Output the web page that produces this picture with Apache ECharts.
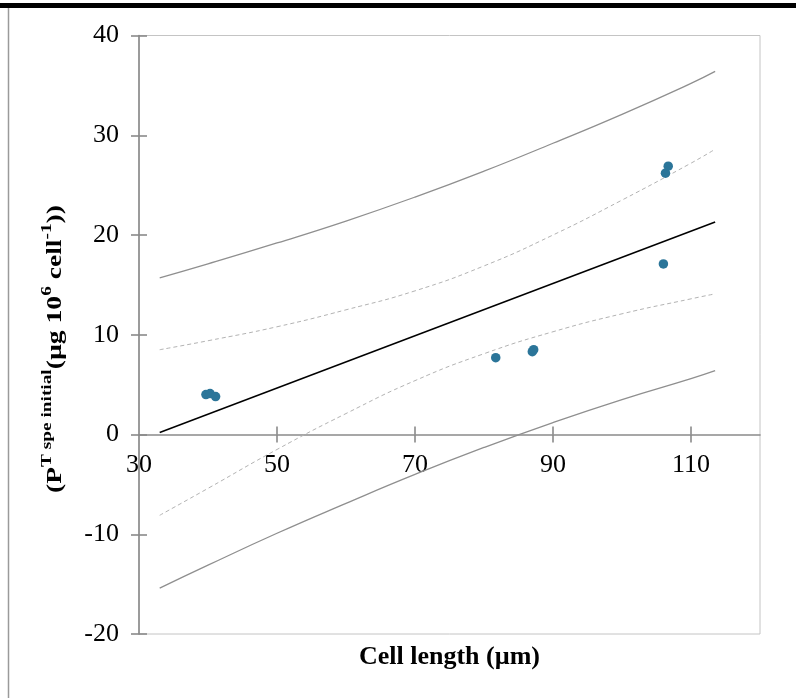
<!DOCTYPE html>
<html>
<head>
<meta charset="utf-8">
<script src="https://cdn.jsdelivr.net/npm/echarts@6.0.0/dist/echarts.min.js"></script>
<style>
  html, body { margin: 0; padding: 0; background: #fff; }
  #chart { width: 796px; height: 698px; }
</style>
</head>
<body>
<div id="chart"></div>
<script>
// values
var xTicks = [30, 50, 70, 90, 110];
var cellLength = [39.7, 40.3, 41.1, 81.7, 87.0, 87.2, 106.3, 106.7, 106.0];
var ptInitial = [4.0, 4.1, 3.8, 7.7, 8.3, 8.5, 26.2, 26.9, 17.1];

// regression line
var fitX = [33, 113.5];
var fitY = [0.2, 21.3];

// confidence (dashed) and prediction (solid grey) bands
var bandX = [33, 40, 50, 60, 70, 80, 90, 100, 110, 113.5];
var confUpper = [8.5, 9.4, 10.8, 12.5, 14.4, 16.9, 20.0, 23.5, 27.2, 28.6];
var confLower = [-8.1, -5.4, -1.5, 2.1, 5.4, 8.1, 10.3, 12.1, 13.6, 14.1];
var predUpper = [15.7, 17.1, 19.2, 21.4, 23.8, 26.4, 29.2, 32.1, 35.2, 36.4];
var predLower = [-15.4, -13.1, -9.9, -6.9, -4.0, -1.3, 1.2, 3.5, 5.6, 6.4];

var serif = '"Liberation Serif", "Times New Roman", serif';
var axisGrey = '#8a8a8a';

function pairs(xs, ys) {
  var out = [];
  for (var i = 0; i < xs.length; i++) out.push([xs[i], ys[i]]);
  return out;
}

var chart = echarts.init(document.getElementById('chart'), null, { renderer: 'canvas' });

var gridTop = 35.5, gridBottom = 64;
var plotH = 698 - gridTop - gridBottom;
// x axis sits on y = 0, i.e. 20 of 60 units above the bottom edge
var zeroOffset = -plotH * 20 / 60;

var xBase = {
  type: 'value', min: 30, max: 120,
  position: 'bottom', offset: zeroOffset,
  splitLine: { show: false }
};
var yBase = {
  type: 'value', min: -20, max: 40, interval: 10,
  position: 'left', offset: 0,
  splitLine: { show: false }
};

var option = {
  animation: false,
  backgroundColor: '#fff',
  grid: {
    left: 139, right: 36, top: gridTop, bottom: gridBottom,
    show: true, borderColor: '#c4c4c4', borderWidth: 1,
    outerBoundsMode: 'none'
  },
  xAxis: [
    Object.assign({}, xBase, {
      axisLine: { onZero: false, lineStyle: { color: axisGrey, width: 1.6 } },
      axisTick: { show: true, length: 8, customValues: xTicks.slice(1), lineStyle: { color: axisGrey, width: 1.6 } },
      axisLabel: { customValues: xTicks, margin: 18, color: '#000', fontSize: 26, fontFamily: serif }
    }),
    Object.assign({}, xBase, {
      axisLine: { show: false, onZero: false },
      axisTick: { show: true, inside: true, length: 8, customValues: xTicks.slice(1), lineStyle: { color: axisGrey, width: 1.6 } },
      axisLabel: { show: false }
    })
  ],
  yAxis: [
    Object.assign({}, yBase, {
      axisLine: { show: true, onZero: false, lineStyle: { color: axisGrey, width: 1.6 } },
      axisTick: { show: true, length: 8, lineStyle: { color: axisGrey, width: 1.6 } },
      axisLabel: { margin: 20, color: '#000', fontSize: 26, fontFamily: serif }
    }),
    Object.assign({}, yBase, {
      axisLine: { show: false, onZero: false },
      axisTick: { show: true, inside: true, length: 8, lineStyle: { color: axisGrey, width: 1.6 } },
      axisLabel: { show: false }
    })
  ],
  graphic: [
    { type: 'rect', shape: { x: 0, y: 3, width: 796, height: 5 }, style: { fill: '#000' } },
    { type: 'line', shape: { x1: 8.5, y1: 8, x2: 8.5, y2: 698 }, style: { stroke: '#9a9a9a', lineWidth: 1.5 } },
    {
      type: 'text', x: 449.5, y: 657,
      style: {
        text: 'Cell length (µm)', font: 'bold 26px ' + serif,
        fill: '#000', align: 'center', verticalAlign: 'middle'
      }
    },
    {
      type: 'text', x: 53, y: 349, rotation: Math.PI / 2, scaleX: 1.38,
      style: {
        text: '{m|(P}{s|T }{s|spe initial}{m|(µg 10}{s|6}{m| cell}{s|-1}{m|))}',
        align: 'center', verticalAlign: 'middle', fill: '#000',
        rich: {
          m: { fontFamily: serif, fontWeight: 'bold', fontSize: 20, lineHeight: 26, verticalAlign: 'bottom' },
          s: { fontFamily: serif, fontWeight: 'bold', fontSize: 14, lineHeight: 26, verticalAlign: 'top' }
        }
      }
    }
  ],
  series: [
    {
      name: 'prediction upper', type: 'line', data: pairs(bandX, predUpper),
      smooth: true, showSymbol: false, lineStyle: { color: '#8f8f8f', width: 1.3 }, z: 2
    },
    {
      name: 'prediction lower', type: 'line', data: pairs(bandX, predLower),
      smooth: true, showSymbol: false, lineStyle: { color: '#8f8f8f', width: 1.3 }, z: 2
    },
    {
      name: 'confidence upper', type: 'line', data: pairs(bandX, confUpper),
      smooth: true, showSymbol: false, lineStyle: { color: '#b3b3b3', width: 1, type: [4, 3] }, z: 2
    },
    {
      name: 'confidence lower', type: 'line', data: pairs(bandX, confLower),
      smooth: true, showSymbol: false, lineStyle: { color: '#b3b3b3', width: 1, type: [4, 3] }, z: 2
    },
    {
      name: 'fit', type: 'line', data: pairs(fitX, fitY),
      showSymbol: false, lineStyle: { color: '#000', width: 1.5 }, z: 3
    },
    {
      name: 'PT spe initial', type: 'scatter', data: pairs(cellLength, ptInitial),
      symbolSize: 9.5, itemStyle: { color: '#2b7599', opacity: 1 }, z: 4
    }
  ]
};

chart.setOption(option);
</script>
</body>
</html>
